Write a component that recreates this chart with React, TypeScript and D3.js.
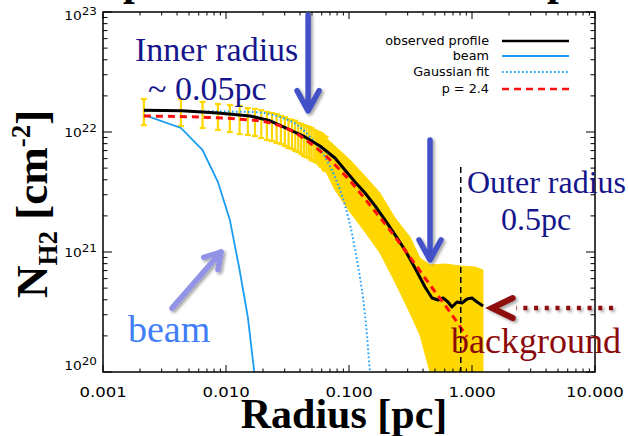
import { useMemo } from "react";
import * as d3 from "d3";

const WIDTH = 628;
const HEIGHT = 436;
const PLOT = { left: 103, right: 595, top: 12, bottom: 372 };

// observed profile (radius in pc, N_H2 in cm^-2)
const obsR = [0.00215, 0.00438, 0.00861, 0.0157, 0.0228, 0.0331, 0.0438, 0.0581, 0.0769, 0.0927, 0.112, 0.135, 0.163, 0.196, 0.237, 0.285, 0.344, 0.415, 0.473, 0.53, 0.581, 0.638, 0.687, 0.755, 0.83, 0.91, 1.0, 1.1, 1.23];
const obsN = [1.52e22, 1.5e22, 1.44e22, 1.36e22, 1.24e22, 1.04e22, 9.09e21, 7.65e21, 6.07e21, 4.82e21, 3.83e21, 3.1e21, 2.42e21, 1.85e21, 1.39e21, 1.04e21, 7.36e20, 5.11e20, 4.14e20, 3.98e20, 4.14e20, 3.83e20, 3.48e20, 3.83e20, 3.76e20, 4.06e20, 4.14e20, 3.83e20, 3.55e20];

// beam
const beamR = [0.00215, 0.0043, 0.00645, 0.0086, 0.01075, 0.0129, 0.01505, 0.0172];
const beamN = [1.39e22, 1.08e22, 7.08e21, 3.83e21, 1.85e21, 7.08e20, 2.87e20, 8.9e19];

// gaussian fit
const gaussR = [0.00215, 0.0157, 0.0331, 0.0482, 0.0638, 0.0769, 0.0927, 0.106, 0.118, 0.13, 0.14, 0.148, 0.155];
const gaussN = [1.5e22, 1.47e22, 1.24e22, 9.09e21, 6.19e21, 4.22e21, 2.46e21, 1.41e21, 7.79e20, 4.14e20, 2.03e20, 1.0e20, 7e19];

// p = 2.4 model
const p24R = [0.00215, 0.00615, 0.013, 0.0228, 0.0331, 0.0482, 0.0702, 0.102, 0.148, 0.215, 0.313, 0.456, 0.662, 0.91];
const p24N = [1.36e22, 1.33e22, 1.28e22, 1.19e22, 1.04e22, 8.1e21, 5.84e21, 3.91e21, 2.46e21, 1.52e21, 9.09e20, 5.31e20, 3.16e20, 1.96e20];

// separate error bars at small radii
const errR = [0.00215, 0.0043, 0.00645, 0.0086, 0.01075, 0.0129, 0.01505, 0.0172, 0.01935, 0.0215, 0.02365, 0.0258, 0.02795, 0.0301, 0.03225, 0.0344, 0.03655, 0.0387, 0.04085, 0.043, 0.04515, 0.0473, 0.04945, 0.0516, 0.05375, 0.0559, 0.05805, 0.0602, 0.06235, 0.0645];
const errHi = [1.88e22, 1.88e22, 1.78e22, 1.71e22, 1.68e22, 1.65e22, 1.58e22, 1.56e22, 1.52e22, 1.47e22, 1.44e22, 1.41e22, 1.36e22, 1.33e22, 1.28e22, 1.26e22, 1.24e22, 1.19e22, 1.17e22, 1.14e22, 1.12e22, 1.1e22, 1.08e22, 1.04e22, 1.02e22, 1.0e22, 9.82e21, 9.62e21, 9.26e21, 9.09e21];
const errLo = [1.14e22, 1.12e22, 1.08e22, 1.04e22, 1.0e22, 9.62e21, 9.44e21, 9.26e21, 8.91e21, 8.58e21, 8.41e21, 8.1e21, 7.94e21, 7.65e21, 7.36e21, 7.22e21, 6.95e21, 6.81e21, 6.56e21, 6.31e21, 6.19e21, 6.07e21, 5.84e21, 5.73e21, 5.62e21, 5.52e21, 5.31e21, 5.11e21, 4.92e21, 4.73e21];

// dense error band at larger radii
const bandR = [0.0638, 0.0769, 0.1019, 0.1349, 0.1786, 0.2366, 0.3133, 0.3776, 0.4558, 0.6032, 0.798, 1.057, 1.228];
const bandHi = [9.09e21, 7.65e21, 5.84e21, 4.3e21, 3.1e21, 1.92e21, 1.33e21, 8.91e20, 7.79e20, 7.94e20, 7.65e20, 7.5e20, 7.08e20];
const bandLo = [4.82e21, 3.29e21, 2.15e21, 1.47e21, 9.82e20, 5.62e20, 3.1e20, 2.03e20, 1.0e20, 5e19, 5e19, 5e19, 5e19];

const xTickLabels = ["0.001", "0.010", "0.100", "1.000", "10.000"];
const yTickExp = ["20", "21", "22", "23"];
const legendLabels = ["observed profile", "beam", "Gaussian fit", "p = 2.4"];

// outer radius marker
const outerR = 0.81;
const outerTopN = 5.11e21;

const GOLD = "#FFD700";
const NAVY = "#16168c";
const ARROW_BLUE = "#4251c7";

const zip = (a: number[], b: number[]) => a.map((v, i) => [v, b[i]] as [number, number]);

function headPath(x1: number, y1: number, x2: number, y2: number, len: number, ang: number) {
  const a = Math.atan2(y2 - y1, x2 - x1);
  const p1 = [x2 - len * Math.cos(a - ang), y2 - len * Math.sin(a - ang)];
  const p2 = [x2 - len * Math.cos(a + ang), y2 - len * Math.sin(a + ang)];
  return `M${p1[0]},${p1[1]}L${x2},${y2}L${p2[0]},${p2[1]}`;
}

export default function App() {
  const xScale = useMemo(() => d3.scaleLog().domain([0.001, 10]).range([PLOT.left, PLOT.right]), []);
  const yScale = useMemo(() => d3.scaleLog().domain([1e20, 1e23]).range([PLOT.bottom, PLOT.top]), []);

  const line = d3.line<[number, number]>().x((d) => xScale(d[0])).y((d) => yScale(d[1]));
  const smooth = d3.line<[number, number]>().x((d) => xScale(d[0])).y((d) => yScale(d[1])).curve(d3.curveMonotoneX);
  const band = d3
    .area<number>()
    .x((_, i) => xScale(bandR[i]))
    .y0((_, i) => yScale(bandLo[i]))
    .y1((_, i) => yScale(bandHi[i]));

  const isMajor = (v: number) => Math.abs(Math.log10(v) - Math.round(Math.log10(v))) < 1e-6;
  const xTicks = xScale.ticks();
  const yTicks = yScale.ticks();
  const xMajors = xTicks.filter(isMajor);
  const yMajors = yTicks.filter(isMajor);

  // annotation arrows in data coordinates
  const innerX = xScale(0.0465);
  const inner = { x: innerX, y1: yScale(9.44e22), y2: yScale(1.5e22) };
  const outerX = xScale(0.4556);
  const outer = { x: outerX, y1: yScale(8.58e21), y2: yScale(8.58e20) };
  const beamA = { x1: xScale(0.00364), y1: yScale(3.41e20), x2: xScale(0.0091), y2: yScale(1e21) };
  const bg = { x1: xScale(14), x2: xScale(1.455), y: yScale(3.41e20) };

  const legendY = [41, 56, 72, 89];

  return (
    <svg width={WIDTH} height={HEIGHT} style={{ position: "absolute", left: 0, top: 0, background: "#fff" }}>
      <defs>
        <clipPath id="plotClip">
          <rect x={PLOT.left} y={PLOT.top} width={PLOT.right - PLOT.left} height={PLOT.bottom - PLOT.top} />
        </clipPath>
        <filter id="shadow" x="-30%" y="-30%" width="160%" height="160%">
          <feDropShadow dx="2" dy="2" stdDeviation="1.6" floodColor="#000" floodOpacity="0.35" />
        </filter>
      </defs>

      {/* cropped title fragments */}
      <text x={123} y={-5} fontFamily="Liberation Serif" fontWeight="bold" fontSize={42}>p</text>
      <text x={547} y={-5} fontFamily="Liberation Serif" fontWeight="bold" fontSize={42}>p</text>

      <g clipPath="url(#plotClip)">
        <path d={band(bandR) || ""} fill={GOLD} stroke={GOLD} strokeWidth={1} />
        {errR.map((r, i) => {
          const x = xScale(r);
          return (
            <g key={i} stroke={GOLD} strokeWidth={2.2}>
              <line x1={x} x2={x} y1={yScale(errHi[i])} y2={yScale(errLo[i])} />
              <line x1={x - 3} x2={x + 3} y1={yScale(errHi[i])} y2={yScale(errHi[i])} />
              <line x1={x - 3} x2={x + 3} y1={yScale(errLo[i])} y2={yScale(errLo[i])} />
            </g>
          );
        })}
        <path d={line(zip(beamR, beamN)) || ""} fill="none" stroke="#1b9cf2" strokeWidth={1.8} />
        <path d={smooth(zip(gaussR, gaussN)) || ""} fill="none" stroke="#1a9fff" strokeWidth={2} strokeDasharray="1.6 2.4" />
        <path d={line(zip(obsR, obsN)) || ""} fill="none" stroke="#000" strokeWidth={3} strokeLinejoin="round" />
        <path d={smooth(zip(p24R, p24N)) || ""} fill="none" stroke="#ff1010" strokeWidth={3} strokeDasharray="7 5" />
        <line x1={xScale(outerR)} x2={xScale(outerR)} y1={yScale(outerTopN)} y2={PLOT.bottom} stroke="#000" strokeWidth={1.5} strokeDasharray="6 4" />
      </g>

      {/* axes frame and ticks */}
      <g stroke="#000" strokeWidth={1.5} fill="none">
        <rect x={PLOT.left} y={PLOT.top} width={PLOT.right - PLOT.left} height={PLOT.bottom - PLOT.top} />
        {xTicks.map((t, i) => {
          const x = xScale(t);
          const len = isMajor(t) ? 7 : 3.5;
          return (
            <g key={"xt" + i} strokeWidth={1}>
              <line x1={x} x2={x} y1={PLOT.bottom} y2={PLOT.bottom - len} />
              <line x1={x} x2={x} y1={PLOT.top} y2={PLOT.top + len} />
            </g>
          );
        })}
        {yTicks.map((t, i) => {
          const y = yScale(t);
          const len = isMajor(t) ? 9 : 4.5;
          return (
            <g key={"yt" + i} strokeWidth={1}>
              <line x1={PLOT.left} x2={PLOT.left + len} y1={y} y2={y} />
              <line x1={PLOT.right} x2={PLOT.right - len} y1={y} y2={y} />
            </g>
          );
        })}
      </g>

      {/* tick labels */}
      <g fontFamily="DejaVu Sans" fill="#000">
        {xMajors.map((t, i) => (
          <text key={"xl" + i} transform={`translate(${xScale(t)},397) scale(1.18,1)`} textAnchor="middle" fontSize={14}>
            {xTickLabels[i]}
          </text>
        ))}
        {yMajors.map((t, i) => {
          const yb = Math.min(Math.max(yScale(t) + 5, 20), 370);
          return (
            <text key={"yl" + i} transform={`translate(97,${yb}) scale(1.2,1)`} textAnchor="end" fontSize={11.5}>
              10<tspan fontSize={10} dy={-5}>{yTickExp[i]}</tspan>
            </text>
          );
        })}
      </g>

      {/* axis titles */}
      <text x={344} y={428} textAnchor="middle" fontFamily="Liberation Serif" fontWeight="bold" fontSize={42}>
        Radius [pc]
      </text>
      <text transform="translate(47,298) rotate(-90)" fontFamily="Liberation Serif" fontWeight="bold" fontSize={45}>
        N<tspan fontSize={27} dy={10}>H2</tspan>
        <tspan dy={-10}> [cm</tspan>
        <tspan fontSize={27} dy={-17}>-2</tspan>
        <tspan dy={17}>]</tspan>
      </text>

      {/* legend */}
      <g fontFamily="DejaVu Sans" fontSize={12.8} fill="#000">
        {legendLabels.map((l, i) => (
          <text key={l} x={489} y={legendY[i] + 4} textAnchor="end">{l}</text>
        ))}
        <line x1={502} x2={569} y1={legendY[0]} y2={legendY[0]} stroke="#000" strokeWidth={2.5} />
        <line x1={502} x2={569} y1={legendY[1]} y2={legendY[1]} stroke="#1b9cf2" strokeWidth={2} />
        <line x1={502} x2={569} y1={legendY[2]} y2={legendY[2]} stroke="#1a9fff" strokeWidth={2} strokeDasharray="1.6 2.4" />
        <line x1={502} x2={569} y1={legendY[3]} y2={legendY[3]} stroke="#ff1010" strokeWidth={2.5} strokeDasharray="7 5" />
      </g>

      {/* annotations */}
      <g fontFamily="Liberation Serif">
        <text x={135} y={61} fontSize={34} fill={NAVY}>Inner radius</text>
        <text x={148} y={100} fontSize={34} fill={NAVY}>~ 0.05pc</text>
        <text x={467} y={193} fontSize={32} fill={NAVY}>Outer radius</text>
        <text x={501} y={230} fontSize={32} fill={NAVY}>0.5pc</text>
        <text x={128} y={342} fontSize={38} fill="#3f7ef7">beam</text>
        <text x={451} y={353} fontSize={36} fill="#8c0a0a">background</text>
      </g>

      <g filter="url(#shadow)" fill="none" strokeLinecap="round" strokeLinejoin="round">
        <g stroke={ARROW_BLUE} strokeWidth={5.5}>
          <line x1={inner.x} x2={inner.x} y1={inner.y1} y2={inner.y2 - 2} />
          <path d={headPath(inner.x, inner.y1, inner.x, inner.y2, 23, 0.5)} />
          <line x1={outer.x} x2={outer.x} y1={outer.y1} y2={outer.y2 - 2} />
          <path d={headPath(outer.x, outer.y1, outer.x, outer.y2, 23, 0.5)} />
        </g>
        <g stroke="#9292e6" strokeWidth={5.5}>
          <line x1={beamA.x1} y1={beamA.y1} x2={beamA.x2} y2={beamA.y2} />
          <path d={headPath(beamA.x1, beamA.y1, beamA.x2, beamA.y2, 18, 0.55)} />
        </g>
        <g stroke="#8e0b0b">
          <line x1={bg.x1} x2={bg.x2 + 24} y1={bg.y} y2={bg.y} strokeWidth={4.5} strokeDasharray="4 6.7" strokeLinecap="butt" />
          <path d={headPath(bg.x1, bg.y, bg.x2, bg.y, 23, 0.45)} strokeWidth={6} strokeLinejoin="miter" />
        </g>
      </g>
    </svg>
  );
}
